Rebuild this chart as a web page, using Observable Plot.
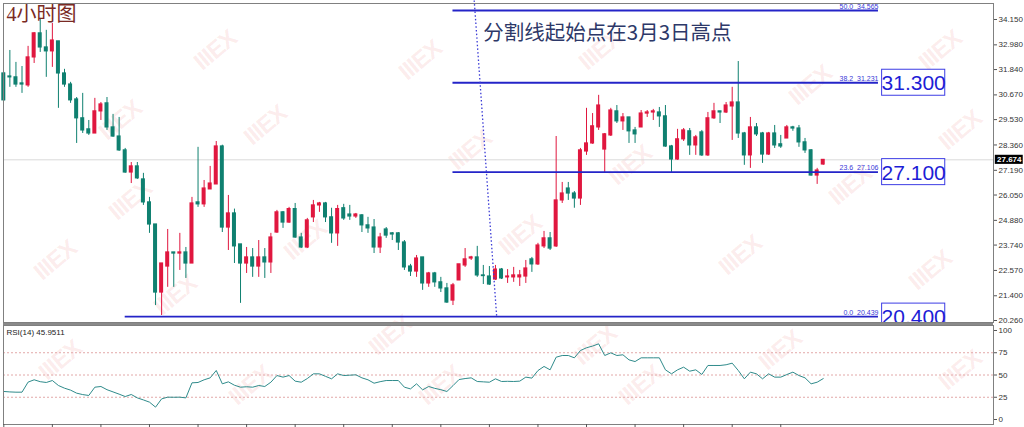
<!DOCTYPE html>
<html><head><meta charset="utf-8">
<script src="https://cdn.jsdelivr.net/npm/d3@7"></script>
<script src="https://cdn.jsdelivr.net/npm/@observablehq/plot@0.6"></script>
<style>
body{margin:0;background:#fff;}
#wrap{position:relative;width:1024px;height:427px;overflow:hidden;background:#fff;font-family:"Liberation Sans",Arial,sans-serif;}
#wm{position:absolute;left:0;top:0;width:1024px;height:427px;pointer-events:none;}
.wm{position:absolute;color:rgba(225,70,70,0.10);font:bold 24px "Liberation Sans",Arial,sans-serif;transform:translate(-50%,-50%) rotate(-40deg);white-space:nowrap;letter-spacing:-1px;}
#bar{position:absolute;left:3px;top:322px;width:990px;height:3px;background:#8a8a8a;}
#main,#rsi{position:absolute;left:0;}
#main{top:0}
#rsi{top:324px}
</style></head>
<body><div id="wrap"><div id="wm"></div><div id="bar"></div><div id="main"></div><div id="rsi"></div></div>
<script>
// ---- data (4H candles) ----
const open = [31.66,31.52,31.48,31.20,31.11,32.40,33.51,32.86,32.68,33.14,
31.66,31.15,30.46,29.59,29.08,28.89,29.91,30.28,29.17,28.75,
28.11,27.09,27.37,26.77,25.71,24.69,21.55,22.75,23.40,23.35,
23.40,22.89,25.71,25.62,26.31,26.54,28.29,24.55,25.20,23.77,
22.89,23.17,22.75,23.17,22.94,24.32,25.25,24.78,25.40,24.09,
23.63,25.02,25.57,25.66,25.02,24.28,25.44,25.15,25.06,25.11,
24.65,24.55,23.63,24.46,24.28,24.28,23.86,22.75,22.52,23.17,
21.97,22.43,22.02,21.74,21.18,22.11,22.80,23.12,23.17,22.34,
22.29,22.15,22.61,22.25,22.25,22.25,22.29,23.08,22.85,23.68,
24.05,23.68,25.80,26.35,26.12,25.89,28.06,28.43,29.17,28.15,
28.80,29.91,29.45,29.63,29.03,29.17,29.81,29.86,29.86,29.68,
28.29,27.69,28.62,28.99,28.34,28.94,27.88,29.59,29.91,29.86,
30.14,30.32,28.89,27.88,29.17,28.89,27.92,28.89,28.39,28.66,
29.17,29.12,28.48,28.11,26.95,27.46];
const high = [31.71,32.72,32.17,31.98,32.91,33.55,34.20,33.65,33.97,33.14,
31.85,31.25,30.55,30.74,29.49,30.51,30.32,30.55,29.77,29.63,
28.20,27.55,27.55,27.05,25.94,24.69,22.89,24.46,23.40,24.28,
23.63,25.94,28.25,26.72,27.37,28.52,28.35,26.03,25.40,23.77,
23.63,23.58,23.95,23.58,24.28,25.34,25.29,25.48,25.66,24.28,
24.97,25.80,25.71,25.71,25.44,25.57,25.62,25.57,25.20,25.15,
25.02,24.92,24.28,24.55,24.32,24.32,23.95,22.85,23.26,23.17,
22.48,22.48,22.25,21.97,21.97,22.85,23.58,23.22,23.68,22.80,
22.75,22.80,22.66,22.61,22.71,22.57,23.03,23.17,23.82,24.37,
24.32,28.75,26.63,26.63,26.21,28.20,30.05,29.81,30.65,28.89,
30.05,30.18,29.81,29.63,29.17,29.95,29.95,30.00,30.09,30.18,
28.34,29.08,29.12,29.12,28.80,29.03,29.86,30.28,29.91,30.32,
31.02,32.21,28.94,29.63,29.35,28.94,28.94,29.26,28.80,29.26,
29.22,29.26,28.66,28.15,27.28,27.69];
const low = [30.38,31.02,31.02,30.74,31.02,32.12,32.63,31.48,31.94,30.05,
31.02,30.28,28.43,28.89,28.80,28.89,29.49,29.03,28.71,28.06,
27.05,26.58,26.77,25.57,24.28,20.95,20.49,21.79,21.79,22.57,
22.20,22.89,25.48,25.48,26.31,26.54,24.32,23.49,22.89,21.05,
22.43,22.25,22.25,22.20,22.43,24.28,24.51,24.74,24.05,23.58,
23.58,24.78,25.25,24.78,23.82,23.68,24.88,24.88,24.97,24.32,
24.28,23.35,23.35,24.05,23.95,23.49,22.57,22.29,22.25,21.65,
21.79,21.79,21.55,21.05,20.95,22.11,22.71,23.03,22.25,21.92,
21.88,22.11,22.15,21.97,22.02,21.83,21.97,22.48,22.80,23.58,
23.49,23.63,25.66,25.80,25.44,25.57,27.88,28.39,29.03,27.09,
28.75,29.35,29.03,28.43,28.43,29.17,29.63,29.49,29.17,28.25,
27.05,27.65,28.52,27.88,27.88,27.83,27.83,29.54,29.35,29.81,
28.57,28.66,27.42,27.28,28.75,27.51,27.88,28.20,28.20,28.66,
28.99,28.25,27.97,26.92,26.54,27.42];
const close = [30.42,31.48,31.15,31.15,32.40,33.51,32.86,32.68,33.18,31.66,
31.15,30.42,29.59,29.03,28.89,29.91,30.23,29.17,28.75,28.11,
27.09,27.37,26.82,25.71,24.69,21.55,22.89,23.40,23.35,23.40,
22.89,25.66,25.62,26.35,26.58,28.29,24.55,25.20,23.68,22.89,
23.17,22.75,23.17,22.94,24.09,25.25,24.78,25.40,24.09,23.63,
24.88,25.57,25.66,25.02,24.28,25.40,24.97,25.06,25.15,24.65,
24.51,23.63,24.09,24.18,24.23,23.86,22.71,22.52,23.12,21.97,
22.43,22.02,21.74,21.09,21.88,22.85,23.08,23.17,22.34,22.31,
21.92,22.61,22.20,22.29,22.34,22.34,22.66,22.85,23.72,24.05,
23.58,25.80,26.12,26.12,25.89,28.11,28.43,29.22,30.18,28.85,
29.95,29.45,29.63,28.99,28.85,29.81,29.86,29.91,29.68,28.29,
27.69,28.62,29.03,28.34,28.71,27.88,29.59,29.91,29.86,30.18,
30.32,28.89,27.88,29.17,28.85,27.92,28.89,28.34,28.29,29.17,
29.12,28.48,28.11,26.95,27.18,27.67];
const rsi = [31.5,31,30.7,30.7,42,44.6,42.5,41.6,43.8,38.2,
35.2,33,29.6,28,27,36.3,37.1,33.5,31,28.5,
25.8,28.1,24.3,22,19.5,13.9,23.2,25.1,25,25.1,
24.3,41.2,41.6,44.6,46.8,55.1,40.1,42.3,38.5,36.3,
36.8,36.3,38.2,37.1,41.9,49.4,47.6,49.4,43.1,41.9,
46,51.3,51.3,48.5,45.7,51.3,49.4,49.8,50.2,46.8,
44.6,40.8,42.5,43.8,43.8,43.8,36.3,34.4,40.1,33.3,
37.1,35,33.5,31.5,38,44.9,46,46.8,42.7,42.3,
41.9,45.7,42.7,42.9,42.7,43.1,47.6,46.5,55,59.6,
55.8,70,71.9,71.9,69.3,77.5,80.6,82.5,85,71.9,
74.9,71.9,72.7,67,65.1,69.3,69.3,69.3,69.3,55.8,
51.3,55.8,58.8,54.3,55.8,50.6,60.7,60.7,60.7,61.5,
63.3,55.1,45.7,53.2,51.3,45.7,51.3,47.6,47.6,50.5,
53.2,49.4,46.8,40.1,41.9,45.95];
const lastPrice = 27.674;
const rsiLabel = "RSI(14) 45.9511";
const priceTicks = [34.150,32.980,31.840,30.670,29.530,28.360,27.190,26.050,24.880,23.740,22.570,21.400,20.260];
const rsiTicks = [0,25,50,75,100];
const rsiLevels = [25,50,75];
const timeTicks = [0,8,16,24,32,40,48,56,64,72,80,88,96,104,112,120,128];
const fibPct = ["50.0","38.2","23.6","0.0"];
const fibLevel = [34.565,31.231,27.106,20.439];
const fibStart = [74,74,74,20];
const fibEnd = 144.1;
const boxText = ["31.300","27.100","20.400"];
const boxLevel = [31.231,27.106,20.439];
const titleText = "4小时图";
const noteText = "分割线起始点在3月3日高点";
const noteIdx = 79, notePrice = 33.5;
const splitLine = {fromIdx: 77.5, fromPrice: 35.03, toIdx: 81.2, toPrice: 20.439};

// ---- styles ----
const RED = "#e0173f", TEAL = "#0f8070", BLUE = "#2424c8";
const xDomain = [-0.05, 163.05];

const candles = open.map((o, i) => ({i, o, h: high[i], l: low[i], c: close[i], col: close[i] >= o ? RED : TEAL}));
const fibs = fibLevel.map((v, k) => ({v, pct: fibPct[k], s: fibStart[k], e: fibEnd}));
const boxes = boxLevel.map((v, k) => ({v, t: boxText[k], e: fibEnd}));

const main = Plot.plot({
  width: 1024, height: 324,
  marginLeft: 3, marginRight: 31, marginTop: 3, marginBottom: 2,
  style: {background: "transparent", fontFamily: "Liberation Sans, Arial, sans-serif", fontSize: "8px", color: "#222", overflow: "hidden"},
  x: {domain: xDomain, axis: null},
  y: {domain: [20.167, 34.888], axis: null},
  color: {type: "identity"},
  marks: [
    Plot.ruleY([lastPrice], {stroke: "#d9d9d9", strokeWidth: 1}),
    Plot.ruleX(candles, {x: "i", y1: "l", y2: "h", stroke: "col", strokeWidth: 1}),
    Plot.rect(candles, {x1: d => d.i - 0.33, x2: d => d.i + 0.33, y1: "o", y2: "c", fill: "col", insetTop: -0.6, insetBottom: -0.6}),
    Plot.ruleY(fibs, {y: "v", x1: "s", x2: "e", stroke: BLUE, strokeWidth: 1.8}),
    Plot.text(fibs, {x: "e", y: "v", text: d => d.pct + "\u00a0\u00a0" + d.v.toFixed(3), textAnchor: "end", dy: -4, fontSize: 7, fill: "#3838d8"}),
    Plot.link([splitLine], {x1: "fromIdx", y1: "fromPrice", x2: "toIdx", y2: "toPrice", stroke: "#3b3bd6", strokeWidth: 1.3, strokeDasharray: "1.5,2.2"}),
    Plot.rect(boxes, {x1: d => d.e + 0.6, x2: d => d.e + 11, y1: d => d.v - 0.6, y2: d => d.v + 0.6, fill: "white", stroke: "#3c3ce4", strokeWidth: 1, clip: "frame"}),
    Plot.text(boxes, {x: d => d.e + 5.8, y: "v", text: "t", fontSize: 21, fill: "#1d1dd6", dy: 1, clip: "frame"}),
    Plot.text([noteText], {x: () => noteIdx, y: () => notePrice, text: d => d, textAnchor: "start", fontSize: 20.5, fill: "#2d3868", fontFamily: "Noto Sans CJK SC"}),
    Plot.text([titleText], {frameAnchor: "top-left", dx: 3, dy: 3, lineAnchor: "top", text: d => d, fontSize: 20, fill: "#7a2a24", fontFamily: "Liberation Serif, Noto Sans CJK SC"}),
    Plot.frame({stroke: "#808080"}),
    Plot.axisY(priceTicks, {anchor: "right", tickFormat: d3.format(".3f"), tickSize: 3, tickPadding: 2, fontSize: 8, label: null, fill: "#333", stroke: "#555"}),
    Plot.rect([lastPrice], {x1: () => xDomain[1] + 0.3, x2: () => xDomain[1] + 4.9, y1: d => d - 0.21, y2: d => d + 0.21, fill: "black", clip: false}),
    Plot.text([lastPrice], {x: () => xDomain[1] + 2.6, y: d => d, text: d => d.toFixed(3), fill: "white", fontSize: 8, fontWeight: "bold"})
  ]
});
document.getElementById("main").appendChild(main);

const rsiData = rsi.map((v, i) => ({i, v}));
const rsiPlot = Plot.plot({
  width: 1024, height: 103,
  marginLeft: 3, marginRight: 31, marginTop: 1, marginBottom: 3,
  style: {background: "transparent", fontFamily: "Liberation Sans, Arial, sans-serif", fontSize: "8px", color: "#222", overflow: "visible"},
  x: {domain: xDomain, axis: null},
  y: {domain: [-5.6, 105.6], axis: null},
  marks: [
    Plot.ruleY(rsiLevels, {stroke: "#e2a8a8", strokeDasharray: "2,2"}),
    Plot.line(rsiData, {x: "i", y: "v", stroke: "#2f8b8b", strokeWidth: 1}),
    Plot.frame({stroke: "#808080"}),
    Plot.axisY(rsiTicks, {anchor: "right", tickSize: 3, tickPadding: 2, fontSize: 8, label: null, fill: "#333", stroke: "#555"}),
    Plot.axisX(timeTicks, {anchor: "bottom", tickSize: 3, tickFormat: () => "", label: null, stroke: "#555"}),
    Plot.text([rsiLabel], {frameAnchor: "top-left", dx: 3, dy: 4, lineAnchor: "top", text: d => d, fontSize: 8, fill: "#222"})
  ]
});
document.getElementById("rsi").appendChild(rsiPlot);

// faint background watermarks (kept fully inside the picture)
const wmPos = [[215,50],[600,50],[940,50],[120,120],[265,125],[420,60],[810,85],[960,130],
  [470,150],[630,165],[850,185],[55,260],[130,200],[305,240],[520,235],[740,255],[930,270],
  [175,295],[390,335],[595,345],[780,350],[960,370],[60,360],[250,385],[640,385],[440,385]];
const wm = document.getElementById("wm");
wmPos.forEach(([x, y]) => {
  const d = document.createElement("div");
  d.className = "wm"; d.textContent = "IIIEX";
  d.style.left = x + "px"; d.style.top = y + "px";
  wm.appendChild(d);
});
</script>
</body></html>
